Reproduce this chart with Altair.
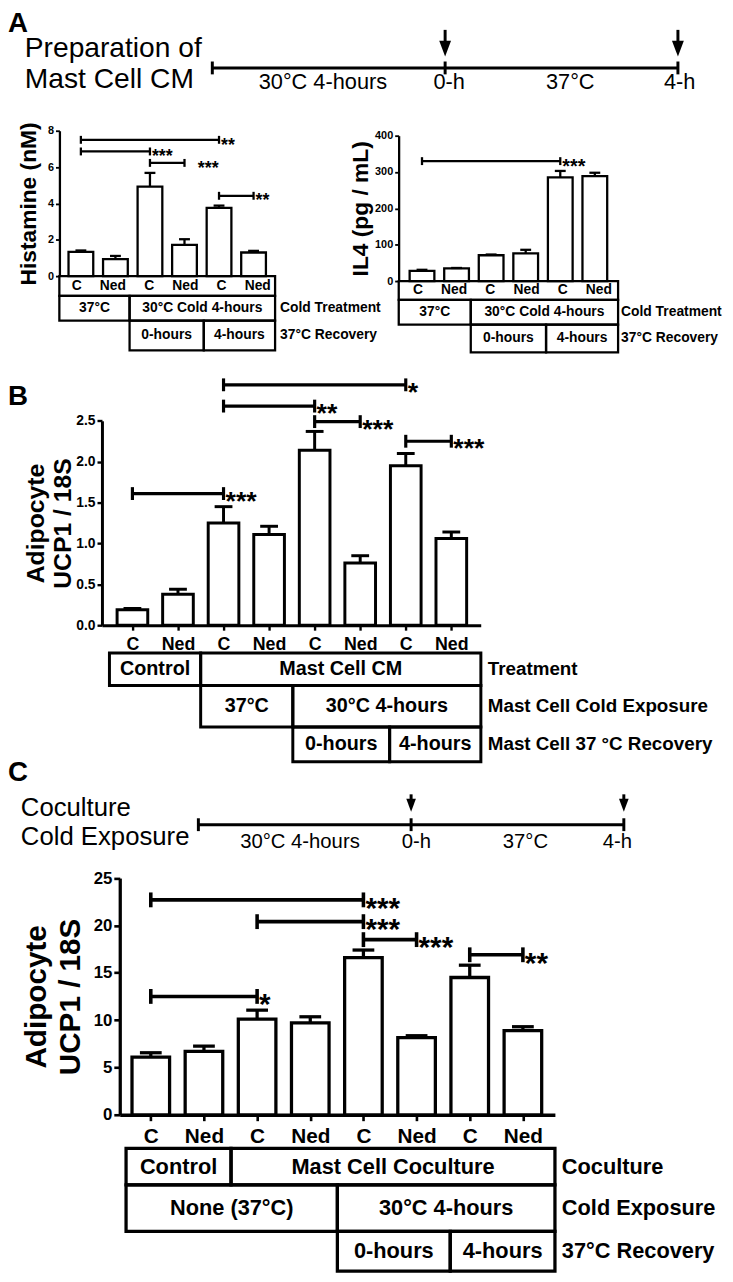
import altair as alt
import pandas as pd

# ============================== data ==============================
groups6 = ["C", "Ned", "C", "Ned", "C", "Ned"]
groups8 = ["C", "Ned", "C", "Ned", "C", "Ned", "C", "Ned"]

# Panel A - Histamine (nM)
histamine_mean = [1.34, 0.94, 4.92, 1.72, 3.75, 1.30]
histamine_sem = [0.07, 0.17, 0.76, 0.31, 0.13, 0.09]
hist_sig_from = [0, 0, 2, 4]
hist_sig_to = [4, 2, 3, 5]
hist_sig_level = [7.5, 6.86, 6.23, 4.42]
hist_sig_stars = ["**", "***", "***", "**"]
hist_sig_star_at = [4, 2, 3.33, 5]

# Panel A - IL4 (pg / mL)
il4_mean = [28, 35, 71, 76, 285, 289]
il4_sem = [3, 1, 2, 10, 18, 9]
il4_sig_from = [0]
il4_sig_to = [4]
il4_sig_level = [330]
il4_sig_stars = ["***"]
il4_sig_star_at = [4]

# Panel B - Adipocyte UCP1 / 18S (mast cell CM)
b_mean = [0.19, 0.38, 1.25, 1.11, 2.14, 0.76, 1.95, 1.06]
b_sem = [0.015, 0.06, 0.20, 0.10, 0.23, 0.09, 0.15, 0.08]
b_sig_from = [2, 2, 4, 6, 0]
b_sig_to = [6, 4, 5, 7, 2]
b_sig_level = [2.94, 2.68, 2.49, 2.25, 1.61]
b_sig_stars = ["*", "**", "***", "***", "***"]
b_sig_star_at = [6, 4, 5, 7, 2]

# Panel C - Adipocyte UCP1 / 18S (coculture)
c_mean = [6.1, 6.7, 10.1, 9.7, 16.6, 8.15, 14.5, 8.9]
c_sem = [0.45, 0.55, 0.95, 0.65, 0.8, 0.2, 1.3, 0.4]
c_sig_from = [0, 2, 4, 6, 0]
c_sig_to = [4, 4, 5, 7, 2]
c_sig_level = [22.7, 20.4, 18.5, 16.9, 12.5]
c_sig_stars = ["***", "***", "***", "**", "*"]
c_sig_star_at = [4, 4, 5, 7, 2]

# Condition tables (cells span bar-index units)
hist_cell_text = ["", "37°C", "30°C Cold 4-hours", "0-hours", "4-hours"]
hist_cell_row = [0, 1, 1, 2, 2]
hist_cell_from = [-0.48, -0.48, 1.46, 1.46, 3.51]
hist_cell_to = [5.48, 1.46, 5.48, 3.51, 5.48]
hist_row_titles = ["Cold Treatment", "37°C Recovery"]
hist_row_title_rows = [1, 2]

il4_cell_text = ["", "37°C", "30°C Cold 4-hours", "0-hours", "4-hours"]
il4_cell_row = [0, 1, 1, 2, 2]
il4_cell_from = [-0.53, -0.53, 1.46, 1.46, 3.54]
il4_cell_to = [5.53, 1.46, 5.53, 3.54, 5.53]
il4_row_titles = ["Cold Treatment", "37°C Recovery"]
il4_row_title_rows = [1, 2]

b_cell_text = ["Control", "Mast Cell CM", "37°C", "30°C 4-hours", "0-hours", "4-hours"]
b_cell_row = [0, 0, 1, 1, 2, 2]
b_cell_from = [-0.4, 1.55, 1.55, 3.52, 3.52, 5.59]
b_cell_to = [1.55, 7.54, 3.52, 7.54, 5.59, 7.54]
b_row_titles = ["Treatment", "Mast Cell Cold Exposure", "Mast Cell 37 °C Recovery"]
b_row_title_rows = [0, 1, 2]

c_cell_text = ["Control", "Mast Cell Coculture", "None (37°C)", "30°C 4-hours", "0-hours", "4-hours"]
c_cell_row = [0, 0, 1, 1, 2, 2]
c_cell_from = [-0.375, 1.555, -0.375, 3.51, 3.51, 5.585]
c_cell_to = [1.555, 7.51, 3.51, 7.51, 5.585, 7.51]
c_row_titles = ["Coculture", "Cold Exposure", "37°C Recovery"]
c_row_title_rows = [0, 1, 2]

# Timelines (hours relative to end of cold exposure)
tl_marks = [-4, 0, 4]
tl_arrows = [0, 4]
tl_labels = ["30°C 4-hours", "0-h", "37°C", "4-h"]
tlA_label_at = [-2.1, 0.07, 2.15, 4.03]
tlC_label_at = [-2.09, 0.1, 2.15, 3.88]
tlA_title = "Preparation of\nMast Cell CM"
tlC_title = "Coculture\nCold Exposure"

panel_letters = ["A", "B", "C"]

# ============================== layout / style ==============================
W, H = 725, 1274
OFF = 8                      # page margin: layout numbers below are reference-pixel coords
FONT = "Liberation Sans, Arial, Helvetica, sans-serif"
ARROW = "M-0.75,-1L0.75,-1L0,1Z"


def P(v):
    return v - OFF


HIST = dict(x0=60, x1=278, c0=77.5, step=36.6, y0=272, y1=125, ydom=[0, 8], yticks=[0, 2, 4, 6, 8],
            yfmt="d", tick_fs=11, tick_len=4, title="Histamine (nM)", title_fs=23, title_lh=26,
            title_x=36, sw=2.3, bar_w=25, cap=5.5, bw=2.3, bcap=4, star_fs=18, xaxis=False)
IL4 = dict(x0=403, x1=625, c0=422.5, step=36.6, y0=277, y1=130, ydom=[0, 400],
           yticks=[0, 100, 200, 300, 400], yfmt="d", tick_fs=11, tick_len=4, title="IL4 (pg / mL)",
           title_fs=23, title_lh=26, title_x=372, sw=2.3, bar_w=25, cap=5.5, bw=2.3, bcap=4,
           star_fs=20, xaxis=False)
BL = dict(x0=103, x1=486, c0=129.5, step=47.3, y0=625, y1=418.3, ydom=[0, 2.5],
          yticks=[0, 0.5, 1, 1.5, 2, 2.5], yfmt=".1f", tick_fs=14, tick_len=5,
          title=["Adipocyte", "UCP1 / 18S"], title_fs=25, title_lh=27, title_x=44, sw=3, bar_w=31,
          cap=9, bw=3.2, bcap=6.5, star_fs=27, xaxis=True, xlab_fs=18, xlab_pad=6, xtick=5)
CL = dict(x0=121, x1=561, c0=148, step=55, y0=1120, y1=880.7, ydom=[0, 25],
          yticks=[0, 5, 10, 15, 20, 25], yfmt="d", tick_fs=17, tick_len=6,
          title=["Adipocyte", "UCP1 / 18S"], title_fs=30, title_lh=34, title_x=46, sw=3.3, bar_w=38,
          cap=11, bw=3.6, bcap=7.5, star_fs=30, xaxis=True, xlab_fs=21, xlab_pad=5, xtick=6)

HIST_T = dict(edges=[272, 292, 317, 347], cell_fs=14, rt_fs=14, rt_dx=5, tsw=2.3, xlab_fs=14)
IL4_T = dict(edges=[277, 296, 321, 349], cell_fs=14, rt_fs=14, rt_dx=3, tsw=2.3, xlab_fs=14)
B_T = dict(edges=[653, 686, 728, 763], cell_fs=20, rt_fs=19, rt_dx=7, tsw=3)
C_T = dict(edges=[1154, 1191, 1238, 1278], cell_fs=22, rt_fs=22, rt_dx=7, tsw=3.3)

TA = dict(x0=214.6, x1=685.4, y=61.5, tick=6.5, lw=3, a_top=23, a_mid=38, a_head=42, head=16,
          lab_fs=22, lab_y=83, tx=25, ty=50, t_fs=28.5, t_lh=32)
TC = dict(x0=200.5, x1=630.7, y=826.7, tick=6.5, lw=3, a_top=796, a_mid=804, a_head=807, head=13,
          lab_fs=20.5, lab_y=850, tx=21, ty=818, t_fs=26, t_lh=29)

LETTER_Y = [25, 402, 783]


def xscale(L):
    lo = (L["x0"] - L["c0"]) / L["step"]
    hi = (L["x1"] - L["c0"]) / L["step"]
    return alt.Scale(domain=[lo, hi], range=[P(L["x0"]), P(L["x1"])], nice=False, zero=False)


def bar_panel(labels, mean, sem, sfrom, sto, slevel, sstars, sat, L):
    n = len(labels)
    xs = xscale(L)
    ys = alt.Scale(domain=L["ydom"], range=[P(L["y0"]), P(L["y1"])], nice=False, zero=False)
    yax = alt.Axis(orient="left", offset=-P(L["x0"]), values=L["yticks"], format=L["yfmt"],
                   title=L["title"], titleX=L["title_x"] - L["x0"], titleBaseline="alphabetic",
                   titleFont=FONT, titleFontSize=L["title_fs"], titleFontWeight="bold",
                   titleLineHeight=L["title_lh"], titleColor="black",
                   labelFont=FONT, labelFontSize=L["tick_fs"], labelFontWeight="bold",
                   labelColor="black", labelPadding=2, tickSize=L["tick_len"], tickWidth=L["sw"] * 0.8,
                   tickColor="black", domainColor="black", domainWidth=L["sw"], grid=False,
                   labelFlush=False, labelOverlap=False)
    if L["xaxis"]:
        expr = "[" + ",".join("'%s'" % s for s in labels) + "][datum.value]"
        xax = alt.Axis(orient="bottom", offset=P(L["y0"]) - H, values=list(range(n)), labelExpr=expr,
                       title=None, grid=False, labelFont=FONT, labelFontSize=L["xlab_fs"],
                       labelFontWeight="bold", labelColor="black", labelPadding=L["xlab_pad"],
                       tickSize=L["xtick"], tickWidth=L["sw"] * 0.8, tickColor="black",
                       domainColor="black", domainWidth=L["sw"], labelFlush=False,
                       labelOverlap=False, labelAngle=0)
    else:
        xax = None

    def X(f):
        return alt.X(f, scale=xs, axis=xax)

    def Y(f):
        return alt.Y(f, scale=ys, axis=yax)

    d = pd.DataFrame({"i": list(range(n)), "mean": mean, "sem": sem})
    d["top"] = d["mean"] + d["sem"]
    sw = L["sw"]
    bars = alt.Chart(d).mark_bar(size=L["bar_w"], fill="white", stroke="black", strokeWidth=sw).encode(
        x=X("i:Q"), y=Y("mean:Q"), y2=alt.datum(0))
    err = alt.Chart(d).mark_rule(color="black", strokeWidth=sw).encode(
        x=X("i:Q"), y=Y("mean:Q"), y2="top:Q")
    cap = alt.Chart(d).mark_rule(color="black", strokeWidth=sw, xOffset=-L["cap"], x2Offset=L["cap"]).encode(
        x=X("i:Q"), x2="i:Q", y=Y("top:Q"))
    s = pd.DataFrame({"a": sfrom, "b": sto, "lev": slevel, "txt": sstars, "at": sat})
    hl = alt.Chart(s).mark_rule(color="black", strokeWidth=L["bw"]).encode(
        x=X("a:Q"), x2="b:Q", y=Y("lev:Q"))
    ca = alt.Chart(s).mark_rule(color="black", strokeWidth=L["bw"], yOffset=-L["bcap"], y2Offset=L["bcap"]).encode(
        x=X("a:Q"), y=Y("lev:Q"), y2="lev:Q")
    cb = alt.Chart(s).mark_rule(color="black", strokeWidth=L["bw"], yOffset=-L["bcap"], y2Offset=L["bcap"]).encode(
        x=X("b:Q"), y=Y("lev:Q"), y2="lev:Q")
    st = alt.Chart(s).mark_text(align="left", baseline="alphabetic", dx=2, dy=0.6 * L["star_fs"],
                                fontSize=L["star_fs"], fontWeight="bold", font=FONT, color="black").encode(
        x=X("at:Q"), y=Y("lev:Q"), text="txt:N")
    return alt.layer(bars, err, cap, hl, ca, cb, st)


def table_panel(texts, rows, froms, tos, titles, title_rows, L, T, xlabels=None):
    xs = xscale(L)
    edges = T["edges"]
    ys = alt.Scale(domain=list(range(len(edges))), range=[P(e) for e in edges], nice=False, zero=False)
    d = pd.DataFrame({"t": texts, "r": rows, "f": froms, "to": tos})
    d["r2"] = d["r"] + 1
    d["rm"] = d["r"] + 0.5
    d["m"] = (d["f"] + d["to"]) / 2
    boxes = alt.Chart(d).mark_rect(fillOpacity=0, stroke="black", strokeWidth=T["tsw"]).encode(
        x=alt.X("f:Q", scale=xs, axis=None), x2="to:Q", y=alt.Y("r:Q", scale=ys, axis=None), y2="r2:Q")
    cells = alt.Chart(d).mark_text(fontSize=T["cell_fs"], fontWeight="bold", font=FONT, color="black",
                                   baseline="middle").encode(
        x=alt.X("m:Q", scale=xs, axis=None), y=alt.Y("rm:Q", scale=ys, axis=None), text="t:N")
    rt = pd.DataFrame({"t": titles, "rm": [r + 0.5 for r in title_rows]})
    rt["x"] = max(tos)
    rtitles = alt.Chart(rt).mark_text(align="left", baseline="middle", dx=T["rt_dx"], fontSize=T["rt_fs"],
                                      fontWeight="bold", font=FONT, color="black").encode(
        x=alt.X("x:Q", scale=xs, axis=None), y=alt.Y("rm:Q", scale=ys, axis=None), text="t:N")
    layers = [boxes, cells, rtitles]
    if xlabels is not None:
        xl = pd.DataFrame({"i": list(range(len(xlabels))), "t": xlabels})
        xl["rm"] = 0.5
        layers.append(alt.Chart(xl).mark_text(fontSize=T["xlab_fs"], fontWeight="bold", font=FONT,
                                              color="black", baseline="middle").encode(
            x=alt.X("i:Q", scale=xs, axis=None), y=alt.Y("rm:Q", scale=ys, axis=None), text="t:N"))
    return alt.layer(*layers)


def timeline(label_at, title, T):
    xs = alt.Scale(domain=[-4, 4], range=[P(T["x0"]), P(T["x1"])], nice=False, zero=False)

    def X(f):
        return alt.X(f, scale=xs, axis=None)

    line = alt.Chart(pd.DataFrame({"s": [min(tl_marks)], "e": [max(tl_marks)]})).mark_rule(
        strokeWidth=T["lw"], color="black").encode(x=X("s:Q"), x2="e:Q", y=alt.value(P(T["y"])))
    ticks = alt.Chart(pd.DataFrame({"h": tl_marks})).mark_rule(strokeWidth=T["lw"], color="black").encode(
        x=X("h:Q"), y=alt.value(P(T["y"] - T["tick"])), y2=alt.value(P(T["y"] + T["tick"])))
    shafts = alt.Chart(pd.DataFrame({"h": tl_arrows})).mark_rule(strokeWidth=T["lw"], color="black").encode(
        x=X("h:Q"), y=alt.value(P(T["a_top"])), y2=alt.value(P(T["a_mid"])))
    heads = alt.Chart(pd.DataFrame({"h": tl_arrows})).mark_point(
        shape=ARROW, size=T["head"] ** 2, filled=True, color="black", opacity=1, strokeWidth=0).encode(
        x=X("h:Q"), y=alt.value(P(T["a_head"])))
    labs = alt.Chart(pd.DataFrame({"h": label_at, "t": tl_labels})).mark_text(
        fontSize=T["lab_fs"], font=FONT, color="black", baseline="alphabetic").encode(
        x=X("h:Q"), y=alt.value(P(T["lab_y"])), text="t:N")
    ttl = alt.Chart(pd.DataFrame({"t": [title]})).mark_text(
        align="left", baseline="alphabetic", fontSize=T["t_fs"], font=FONT, color="black",
        lineBreak="\n", lineHeight=T["t_lh"]).encode(
        x=alt.value(P(T["tx"])), y=alt.value(P(T["ty"])), text="t:N")
    return alt.layer(line, ticks, shafts, heads, labs, ttl)


letters = [
    alt.Chart(pd.DataFrame({"t": [lt]})).mark_text(
        align="left", baseline="alphabetic", fontSize=28, fontWeight="bold", font=FONT, color="black").encode(
        x=alt.value(0), y=alt.value(P(yy)), text="t:N")
    for lt, yy in zip(panel_letters, LETTER_Y)
]

children = [
    timeline(tlA_label_at, tlA_title, TA),
    bar_panel(groups6, histamine_mean, histamine_sem, hist_sig_from, hist_sig_to, hist_sig_level,
              hist_sig_stars, hist_sig_star_at, HIST),
    table_panel(hist_cell_text, hist_cell_row, hist_cell_from, hist_cell_to, hist_row_titles,
                hist_row_title_rows, HIST, HIST_T, xlabels=groups6),
    bar_panel(groups6, il4_mean, il4_sem, il4_sig_from, il4_sig_to, il4_sig_level, il4_sig_stars,
              il4_sig_star_at, IL4),
    table_panel(il4_cell_text, il4_cell_row, il4_cell_from, il4_cell_to, il4_row_titles,
                il4_row_title_rows, IL4, IL4_T, xlabels=groups6),
    bar_panel(groups8, b_mean, b_sem, b_sig_from, b_sig_to, b_sig_level, b_sig_stars, b_sig_star_at, BL),
    table_panel(b_cell_text, b_cell_row, b_cell_from, b_cell_to, b_row_titles, b_row_title_rows, BL, B_T),
    timeline(tlC_label_at, tlC_title, TC),
    bar_panel(groups8, c_mean, c_sem, c_sig_from, c_sig_to, c_sig_level, c_sig_stars, c_sig_star_at, CL),
    table_panel(c_cell_text, c_cell_row, c_cell_from, c_cell_to, c_row_titles, c_row_title_rows, CL, C_T),
] + letters

chart = alt.layer(*children).resolve_scale(x="independent", y="independent").properties(
    width=W, height=H, padding=0, autosize=alt.AutoSizeParams(type="none"),
    background="white"
).configure_view(strokeWidth=0)

chart.save("out.html", embed_options={"renderer": "svg", "actions": False})
